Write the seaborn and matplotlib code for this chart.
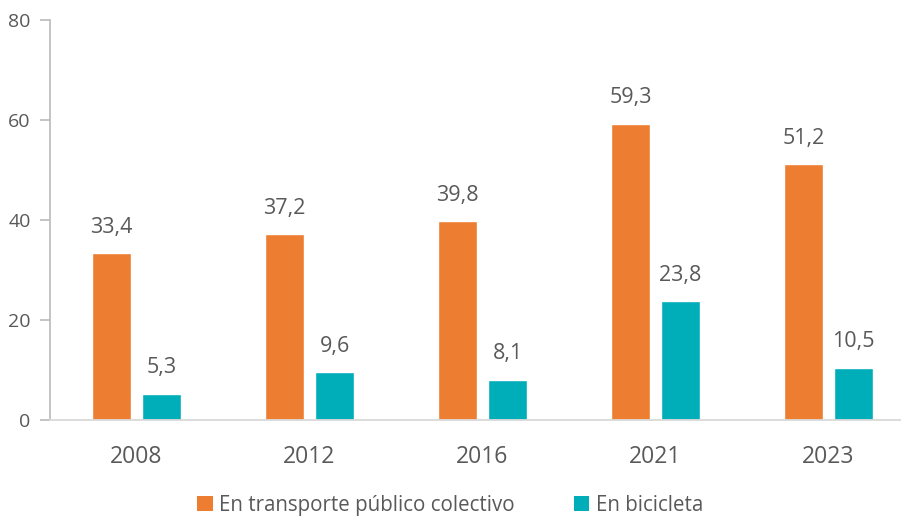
import matplotlib
matplotlib.use("Agg")
import matplotlib.pyplot as plt
import seaborn as sns
import pandas as pd
from matplotlib.patches import Patch

years = ["2008", "2012", "2016", "2021", "2023"]
transporte = [33.4, 37.2, 39.8, 59.3, 51.2]
bicicleta = [5.3, 9.6, 8.1, 23.8, 10.5]
series_names = ["En transporte público colectivo", "En bicicleta"]
colors = ["#ED7D31", "#00AEBA"]
y_ticks = [0, 20, 40, 60, 80]

df = pd.DataFrame({
    "year": years * 2,
    "value": transporte + bicicleta,
    "serie": [series_names[0]] * len(years) + [series_names[1]] * len(years),
})

sns.set_theme(style="white")
plt.rcParams["font.family"] = ["Open Sans", "DejaVu Sans"]
text_color = "#595959"

fig = plt.figure(figsize=(9.01, 5.19), dpi=100)
ax = fig.add_axes([50 / 901, 1 - 420 / 519, 865 / 901, 400 / 519])

sns.barplot(data=df, x="year", y="value", hue="serie", palette=colors,
            width=0.58, gap=0.224, ax=ax, legend=False, saturation=1)

for cont in ax.containers:
    ax.bar_label(cont, labels=[f"{v:.1f}".replace(".", ",") for v in cont.datavalues],
                 padding=11, fontsize=15.5, color=text_color)

ax.set_xlim(-0.5, 4.5)
ax.set_ylim(0, 80)
ax.set_yticks(y_ticks)
ax.set_yticklabels([str(t) for t in y_ticks])
ax.set_xlabel("")
ax.set_ylabel("")

for side in ["top", "right"]:
    ax.spines[side].set_visible(False)
ax.spines["left"].set_color("#BFBFBF")
ax.spines["left"].set_linewidth(1.3)
ax.spines["bottom"].set_color("#D9D9D9")
ax.spines["bottom"].set_linewidth(1.3)

ax.tick_params(axis="y", which="both", left=True, length=7, width=1.3,
               color="#BFBFBF", labelsize=14, labelcolor=text_color, pad=7)
ax.tick_params(axis="x", bottom=False, labelsize=16.5, labelcolor=text_color, pad=12)

handles = [Patch(facecolor=c, edgecolor="none") for c in colors]
fig.legend(handles, series_names, loc="lower center", bbox_to_anchor=(450 / 901, -0.03),
           ncol=2, frameon=False, fontsize=14.8, labelcolor=text_color,
           handlelength=0.75, handleheight=0.75, handletextpad=0.3, columnspacing=2.9)

fig.savefig("out.png", dpi=100)
